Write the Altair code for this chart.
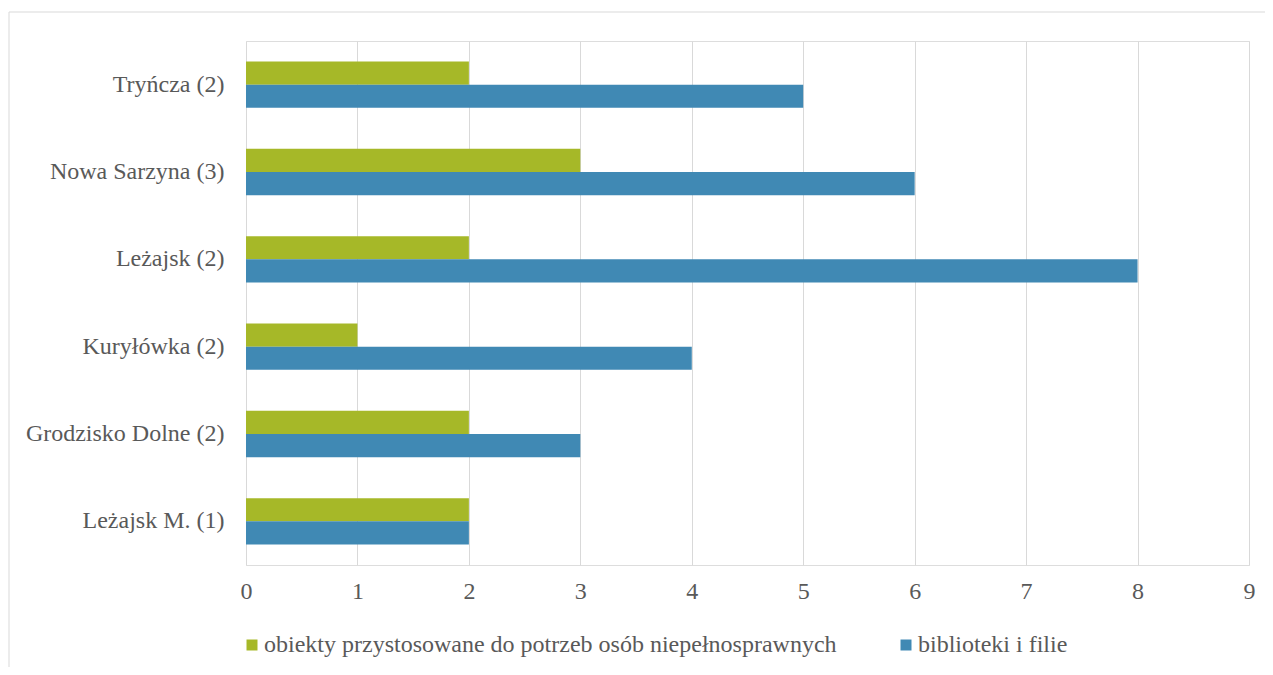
import altair as alt
import pandas as pd

categories = ["Tryńcza (2)", "Nowa Sarzyna (3)", "Leżajsk (2)", "Kuryłówka (2)", "Grodzisko Dolne (2)", "Leżajsk M. (1)"]
series_names = ["obiekty przystosowane do potrzeb osób niepełnosprawnych", "biblioteki i filie"]
adapted = [2, 3, 2, 1, 2, 2]
libraries = [5, 6, 8, 4, 3, 2]
colors = ["#A6B828", "#4089B4"]
x_ticks = [0, 1, 2, 3, 4, 5, 6, 7, 8, 9]

rows = []
for c, a, b in zip(categories, adapted, libraries):
    rows.append({"cat": c, "series": series_names[0], "value": a})
    rows.append({"cat": c, "series": series_names[1], "value": b})
df = pd.DataFrame(rows)

FONT = "Liberation Serif, Times New Roman, serif"
TXT = "#595959"
FS = 24

bars = alt.Chart(df).mark_bar().encode(
    y=alt.Y("cat:N", sort=categories, title=None,
            scale=alt.Scale(paddingInner=0.47, paddingOuter=0.235),
            axis=alt.Axis(domain=False, ticks=False, labelFont=FONT, labelFontSize=FS,
                          labelColor=TXT, labelPadding=22, grid=False, labelLimit=400)),
    yOffset=alt.YOffset("series:N", sort=series_names,
                        scale=alt.Scale(paddingInner=0, paddingOuter=0)),
    x=alt.X("value:Q", title=None,
            scale=alt.Scale(domain=[0, 9], nice=False),
            axis=alt.Axis(values=x_ticks, domain=False, ticks=False, grid=True,
                          gridColor="#d9d9d9", gridWidth=1, labelFont=FONT,
                          labelFontSize=FS, labelColor=TXT, labelPadding=14,
                          labelFlush=False, format="d")),
    color=alt.Color("series:N", sort=series_names,
                    scale=alt.Scale(domain=series_names, range=colors),
                    legend=alt.Legend(title=None, orient="none", legendX=-6, legendY=592,
                                      direction="horizontal", symbolType="square",
                                      symbolSize=121, symbolStrokeWidth=0,
                                      labelFont=FONT, labelFontSize=FS, labelColor=TXT,
                                      labelOffset=0, columnPadding=57, padding=0,
                                      labelLimit=1000)),
)

frame_df = pd.DataFrame({"k": [0]})
left_line = alt.Chart(frame_df).mark_rule(color="#d9d9d9", strokeWidth=1).encode(
    x=alt.value(-237), y=alt.value(-29), y2=alt.value(640))
top_line = alt.Chart(frame_df).mark_rule(color="#d9d9d9", strokeWidth=1).encode(
    x=alt.value(-237), x2=alt.value(1030), y=alt.value(-29))

chart = alt.layer(left_line, top_line, bars).properties(
    width=1003, height=524,
    autosize=alt.AutoSizeParams(type="none"),
    padding={"left": 238, "top": 33, "right": 16, "bottom": 102},
).configure_view(stroke=None).configure(background="white")

chart.save("out.html", embed_options={"renderer": "svg", "actions": False})
